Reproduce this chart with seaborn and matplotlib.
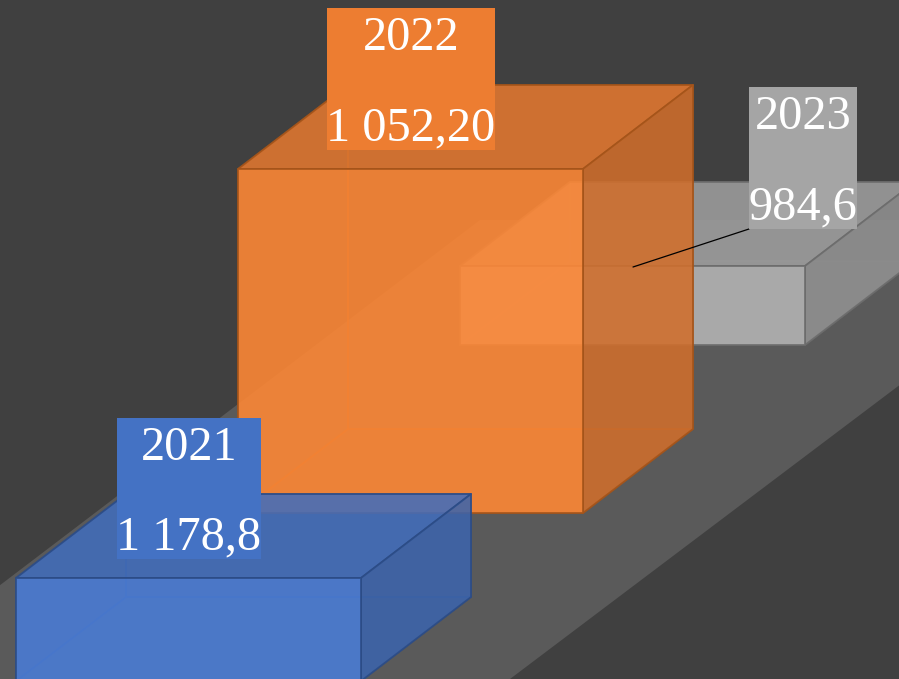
import matplotlib
matplotlib.use('Agg')
import matplotlib.pyplot as plt
import seaborn as sns
from matplotlib.colors import to_rgba
from matplotlib.patches import Polygon, Rectangle

years = ['2021', '2022', '2023']
values = [1178.8, 1052.20, 984.6]
value_labels = ['1 178,8', '1 052,20', '984,6']
# drawn heights, the value axis of the original is not linear
drawn_heights = [103, 344, 79]

BG = '#404040'
FLOOR = '#5a5a5a'
palette = sns.color_palette(['#4472C4', '#ED7D31', '#A5A5A5'])
edges = sns.color_palette(['#2C4C86', '#A4541A', '#6C6C6C'])

# oblique layout of the 3d scene, in pixels
ORIGIN = (16, 681)
STEP = (222, -168)
WIDTH = 345
DEPTH = (110, -84)


def front_left(i):
    return ORIGIN[0] + STEP[0] * i, ORIGIN[1] + STEP[1] * i


def draw_box(ax, i, height, color, edge, zorder):
    x, y = front_left(i)
    dx, dy = DEPTH
    w = WIDTH
    top = y - height
    faces = [
        ([(x + dx, y + dy), (x + w + dx, y + dy), (x + w + dx, top + dy), (x + dx, top + dy)], 0.08, 0.0),  # back
        ([(x, y), (x + dx, y + dy), (x + dx, top + dy), (x, top)], 0.06, 0.0),  # left
        ([(x, y), (x + w, y), (x + w + dx, y + dy), (x + dx, y + dy)], 0.10, 0.0),  # floor
        ([(x, top), (x + w, top), (x + w + dx, top + dy), (x + dx, top + dy)], 0.86, -0.04),  # top
        ([(x + w, y), (x + w + dx, y + dy), (x + w + dx, top + dy), (x + w, top)], 0.86, -0.12),  # side
        ([(x, y), (x + w, y), (x + w, top), (x, top)], 0.88, 0.09),  # front
    ]
    for n, (pts, alpha, shade) in enumerate(faces):
        rgb = tuple(min(c * (1 + shade), 1) for c in color)
        ax.add_patch(Polygon(pts, closed=True, facecolor=to_rgba(rgb, alpha),
                             edgecolor=to_rgba(edge, 0.9 if n > 2 else 0.5),
                             linewidth=1.3, joinstyle='round', zorder=zorder + n * 0.01))


sns.set_style('white')
plt.rcParams['font.family'] = ['Liberation Serif', 'DejaVu Serif']

fig = plt.figure(figsize=(8.99, 6.79), dpi=100, facecolor=BG)
ax = fig.add_axes([0, 0, 1, 1])
ax.set_xlim(0, 899)
ax.set_ylim(679, 0)
ax.set_facecolor(BG)
ax.axis('off')

ax.add_patch(Polygon([(-30, 608), (480, 220), (950, 220), (950, 347), (510, 679), (-30, 700)],
                     closed=True, facecolor=FLOOR, edgecolor='none', zorder=1))

# back to front
for i in [2, 1, 0]:
    draw_box(ax, i, drawn_heights[i], palette[i], edges[i], zorder=2 + (2 - i))

# data labels: centre x, baseline of year, baseline of value, box left and right
label_layout = [(189, 460, 549, 117, 261), (411, 50, 140, 327, 495), (803, 129, 219, 749, 857)]

ax.plot([749, 633], [229, 267], color='black', lw=0.9, zorder=8)

for i, (cx, y1, y2, left, right) in enumerate(label_layout):
    ax.add_patch(Rectangle((left, y1 - 42), right - left, y2 - y1 + 52,
                           facecolor=palette[i], edgecolor='none', zorder=9))
    ax.text(cx, y1, years[i], color='white', fontsize=34.8, ha='center', va='baseline', zorder=10)
    ax.text(cx, y2, value_labels[i], color='white', fontsize=34.8, ha='center', va='baseline', zorder=10)

plt.savefig('out.png', dpi=100, facecolor=BG)
